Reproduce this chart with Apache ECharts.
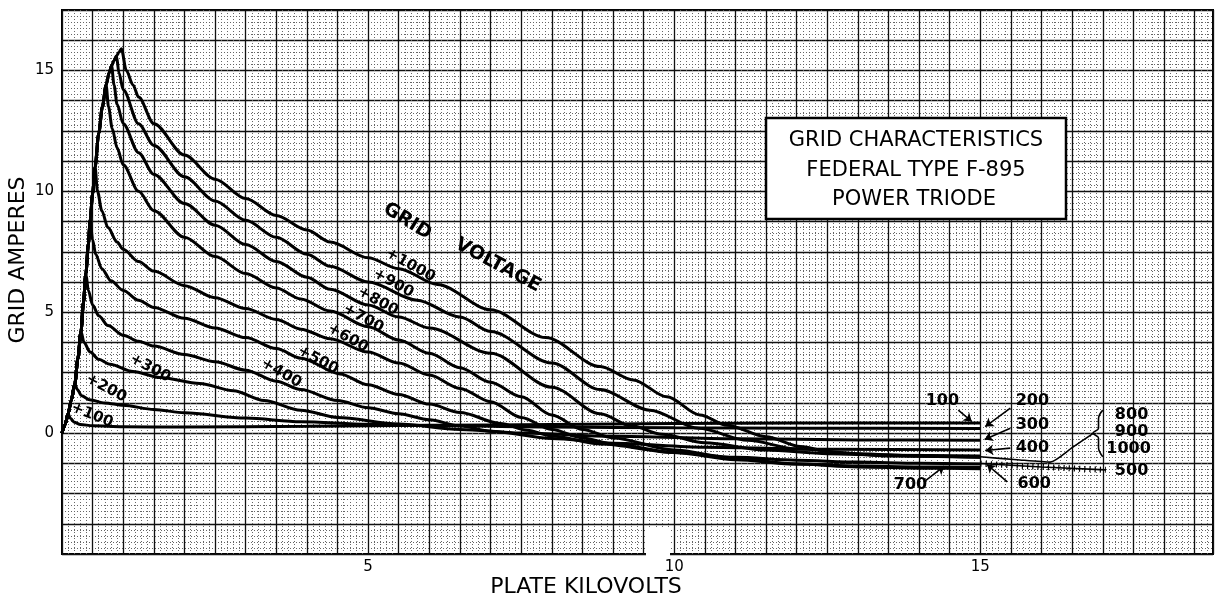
<!DOCTYPE html>
<html>
<head>
<meta charset="utf-8">
<title>Grid characteristics F-895</title>
<script src="https://cdn.jsdelivr.net/npm/echarts/dist/echarts.min.js"></script>
<style>
  html, body { margin: 0; padding: 0; background: #fff; }
  #chart { width: 1224px; height: 601px; }
</style>
</head>
<body>
<div id="chart"></div>
<script>
// rising part shared by every curve (plate kV, grid A)
const envelope = [[0,0],[0.05,0.35],[0.1,0.8],[0.15,1.35],[0.21,2.05],[0.26,3.1],[0.31,4.2],[0.35,5.4],
  [0.39,6.6],[0.43,7.8],[0.46,8.8],[0.5,9.9],[0.54,11.0],[0.6,12.4],[0.66,13.5],[0.72,14.4],[0.77,14.9],
  [0.81,15.2],[0.85,15.4],[0.89,15.6],[0.93,15.75],[0.97,15.9]];

// each curve from its peak on
const g100 = [[0.1,0.8],[0.14,0.6],[0.2,0.45],[0.3,0.36],[0.5,0.3],[1,0.26],[2,0.25],[4,0.28],[6,0.32],
  [8,0.36],[10,0.4],[12,0.42],[15,0.42]];
const g200 = [[0.21,2.05],[0.25,1.8],[0.32,1.55],[0.45,1.38],[0.7,1.25],[1.0,1.15],[1.5,0.98],[2.0,0.84],
  [3.0,0.62],[3.9,0.47],[5,0.37],[6,0.31],[8,0.25],[10,0.22],[12,0.2],[15,0.19]];
const g300 = [[0.31,4.2],[0.36,3.75],[0.46,3.35],[0.6,3.05],[0.78,2.85],[1.16,2.55],[1.6,2.3],[2.25,2.05],
  [2.8,1.75],[3.3,1.35],[3.9,0.95],[4.5,0.65],[5.5,0.38],[6.5,0.15],[7.5,0.0],[9,-0.13],[11,-0.23],
  [13,-0.28],[15,-0.3]];
const g400 = [[0.39,6.6],[0.43,5.9],[0.5,5.3],[0.6,4.85],[0.75,4.45],[1.0,4.05],[1.25,3.8],[1.5,3.6],
  [2.0,3.25],[2.5,2.95],[3.0,2.6],[3.5,2.15],[3.9,1.8],[4.5,1.35],[5.0,1.05],[5.5,0.8],[6.0,0.55],
  [6.5,0.3],[7.0,0.08],[8.0,-0.22],[9.0,-0.42],[10.5,-0.58],[12.5,-0.67],[15,-0.7]];
const g500 = [[0.46,8.8],[0.5,8.0],[0.55,7.4],[0.65,6.8],[0.8,6.3],[1.0,5.9],[1.25,5.5],[1.5,5.2],
  [2.0,4.75],[2.5,4.35],[3.0,3.95],[3.5,3.5],[3.9,3.1],[4.54,2.45],[5.0,2.0],[5.5,1.6],[6.0,1.2],
  [6.5,0.85],[7.16,0.4],[7.6,0.12],[8.0,-0.12],[8.8,-0.45],[10,-0.8],[11,-1.0],[12,-1.12],[13,-1.2],
  [14,-1.25],[15,-1.28]];
const g600 = [[0.54,11.0],[0.58,10.0],[0.65,9.2],[0.75,8.5],[0.9,7.9],[1.0,7.6],[1.25,7.1],[1.5,6.7],
  [2.0,6.1],[2.5,5.6],[3.0,5.15],[3.5,4.7],[3.9,4.3],[4.38,3.9],[5.0,3.35],[5.5,2.9],[6.0,2.4],
  [6.5,1.85],[7.0,1.3],[7.5,0.65],[8.0,0.15],[8.5,-0.2],[9.0,-0.45],[10,-0.8],[11,-1.1],[12,-1.28],
  [13,-1.36],[14,-1.4],[15,-1.42]];
const g700 = [[0.72,14.4],[0.76,13.5],[0.82,12.6],[0.9,11.8],[1.0,11.1],[1.25,10.0],[1.5,9.2],[2.0,8.1],
  [2.5,7.3],[3.0,6.6],[3.5,6.0],[3.9,5.55],[4.38,5.05],[5.0,4.4],[5.5,3.85],[6.0,3.3],[6.5,2.7],
  [7.0,2.1],[7.5,1.5],[8.0,0.75],[8.5,0.15],[9.0,-0.2],[10,-0.7],[11,-1.05],[12,-1.28],[13,-1.4],
  [14,-1.45],[15,-1.47]];
const g800 = [[0.81,15.2],[0.85,14.4],[0.9,13.6],[1.0,12.8],[1.25,11.6],[1.5,10.7],[2.0,9.5],[2.5,8.6],
  [3.0,7.8],[3.5,7.1],[4.0,6.45],[4.38,5.95],[5.0,5.3],[5.5,4.8],[6.0,4.35],[7.0,3.3],[8.0,1.9],
  [8.79,0.8],[9.3,0.3],[9.8,-0.05],[10.5,-0.4],[11.5,-0.7],[12.5,-0.85],[13.5,-0.92],[15,-0.95]];
const g900 = [[0.89,15.6],[0.93,14.9],[1.0,14.2],[1.25,12.8],[1.5,11.9],[2.0,10.6],[2.5,9.6],[3.0,8.8],
  [3.5,8.1],[4.0,7.4],[4.38,6.9],[5.0,6.25],[5.8,5.5],[6.5,4.8],[7.0,4.2],[8.0,2.9],[8.79,1.8],
  [9.6,0.95],[10.4,0.2],[11.2,-0.3],[12.0,-0.65],[13,-0.85],[14,-0.95],[15,-1.0]];
const g1000 = [[0.97,15.9],[1.05,15.0],[1.16,14.4],[1.25,13.9],[1.5,12.8],[2.0,11.5],[2.5,10.5],[3.0,9.7],
  [3.5,9.0],[4.0,8.4],[4.38,7.9],[5.0,7.25],[5.5,6.8],[6.13,6.15],[7.0,5.1],[7.9,3.95],[8.79,2.75],
  [9.33,2.2],[9.88,1.5],[10.42,0.75],[10.86,0.33],[11.5,-0.15],[12.06,-0.55],[12.6,-0.8],[13.5,-0.95],
  [15,-1.0]];

const curves = [g100, g200, g300, g400, g500, g600, g700, g800, g900, g1000];
const gridVolts = ['+100','+200','+300','+400','+500','+600','+700','+800','+900','+1000'];

// tick labels that are printed
const xTickLabels = [5, 10, 15];
const yTickLabels = [0, 5, 10, 15];

// curve names written along the curves
const curveLabelAt = [[0.49,0.74],[0.72,1.86],[1.44,2.69],[3.58,2.48],[4.18,3.02],[4.67,3.93],
  [4.92,4.75],[5.16,5.45],[5.41,6.2],[5.69,6.94]];
const curveLabelTilt = [-22,-28,-28,-30,-28,-29,-29,-29,-29,-29];

// end labels on the right with their arrows
const endLabels = ['100','200','300','400','600','700','800','900','1000','500'];
const endLabelAt = [[14.38,1.32],[15.85,1.32],[15.85,0.33],[15.85,-0.62],[15.88,-2.11],[13.86,-2.15],
  [17.47,0.74],[17.47,0.04],[17.42,-0.66],[17.47,-1.57]];
const arrows = [[[14.64,0.95],[14.86,0.48]], [[15.49,1.03],[15.08,0.27]], [[15.49,0.2],[15.07,-0.26]],
  [[15.49,-0.62],[15.08,-0.72]], [[15.44,-2.02],[15.11,-1.3]], [[14.1,-1.98],[14.41,-1.37]]];
const arrowBend = [0, 0, 0, 0.35, -0.35, 0];
const leader500 = [[15.0,-1.26],[16.0,-1.4],[17.05,-1.52]];
const leaderHigh = [[15.0,-0.98],[15.6,-1.1],[16.14,-1.2],[16.5,-0.6],[16.85,0.0]];
const bracket = [[17.0,0.95],[16.93,0.6],[16.93,0.2],[16.84,0.0],[16.93,-0.2],[16.93,-0.6],[17.0,-0.98]];

const FONT = 'DejaVu Sans';
const ink = '#000';

function trace(desc) {
  return envelope.filter(p => p[0] < desc[0][0]).concat(desc);
}
function isTick(v, list) {
  return list.some(t => Math.abs(t - v) < 1e-6);
}
// text written into the plot, anchored on data coordinates
function textLayer(items, size) {
  return {
    type: 'scatter', silent: true, z: 5, symbolSize: 0,
    itemStyle: { color: '#000' },
    data: items,
    label: {
      show: true, position: 'inside', formatter: p => p.name,
      color: ink, opacity: 1, textBorderWidth: 0, textShadowBlur: 0,
      fontFamily: FONT, fontWeight: 'bold', fontSize: size
    }
  };
}

var chart = echarts.init(document.getElementById('chart'));

var series = curves.map((d, i) => ({
  name: gridVolts[i],
  type: 'line',
  data: trace(d),
  showSymbol: false,
  smooth: 0.3,
  smoothMonotone: 'x',
  silent: true,
  z: 3,
  lineStyle: { color: '#000', width: 3 }
}));

// leader lines and arrows
series.push({
  type: 'line', data: leader500, showSymbol: false, silent: true, z: 3,
  lineStyle: { color: '#000', width: 1.6 },
  markLine: {
    silent: true, animation: false,
    symbol: ['none', 'arrow'], symbolSize: 8,
    label: { show: false },
    lineStyle: { color: '#000', width: 1.6, type: 'solid' },
    data: arrows.map((a, i) => [
      { coord: a[0], lineStyle: { curveness: arrowBend[i] } },
      { coord: a[1] }
    ])
  }
});
series.push({
  type: 'line', data: leader500, showSymbol: false, silent: true, z: 3,
  lineStyle: { color: '#000', width: 6, type: [1.2, 4] }
});
series.push({
  type: 'line', data: leaderHigh, showSymbol: false, silent: true, z: 3, smooth: 0.2,
  lineStyle: { color: '#000', width: 1.6 }
});
series.push({
  type: 'line', data: bracket, showSymbol: false, silent: true, z: 3, smooth: 0.4,
  lineStyle: { color: '#000', width: 1.6 }
});

// curve names, GRID VOLTAGE, end labels
series.push(textLayer(curveLabelAt.map((p, i) => ({
  name: gridVolts[i], value: p, label: { rotate: curveLabelTilt[i] }
})), 15));
series.push(textLayer([
  { name: 'GRID', value: [5.64, 8.76], label: { rotate: -32 } },
  { name: 'VOLTAGE', value: [7.12, 6.94], label: { rotate: -28 } }
], 19));
series.push(textLayer(endLabelAt.map((p, i) => ({ name: endLabels[i], value: p })), 16));

var option = {
  animation: false,
  backgroundColor: '#fff',
  grid: {
    left: 62, right: 11, top: 10, bottom: 47,
    show: true, borderColor: '#000', borderWidth: 2
  },
  xAxis: {
    type: 'value', min: 0, max: 18.8, interval: 0.5,
    axisLine: { show: false },
    axisTick: { show: false },
    axisLabel: {
      color: ink, fontFamily: FONT, fontSize: 15, margin: 6,
      showMinLabel: true, showMaxLabel: false,
      formatter: v => isTick(v, xTickLabels) ? String(Math.round(v)) : ''
    },
    splitLine: { show: true, lineStyle: { color: '#111', width: 1.3 } },
    minorTick: { show: true, splitNumber: 5, length: 0 },
    minorSplitLine: { show: true, lineStyle: { color: '#666', width: 1, type: [1, 2] } }
  },
  yAxis: {
    type: 'value', min: -5, max: 17.5, interval: 1.25,
    axisLine: { show: false },
    axisTick: { show: false },
    axisLabel: {
      color: ink, fontFamily: FONT, fontSize: 15, margin: 8,
      formatter: v => isTick(v, yTickLabels) ? String(Math.round(v)) : ''
    },
    splitLine: { show: true, lineStyle: { color: '#111', width: 1.3 } },
    minorTick: { show: true, splitNumber: 5, length: 0 },
    minorSplitLine: { show: true, lineStyle: { color: '#666', width: 1, type: [1, 2] } }
  },
  graphic: [
    // blank patch in the scanned sheet
    { type: 'rect', z: 20, shape: { x: 646, y: 528, width: 24, height: 28 }, style: { fill: '#fff' } },
    {
      type: 'text', x: 586, y: 587, z: 20,
      style: { text: 'PLATE KILOVOLTS', font: '22px "DejaVu Sans"', fill: ink, align: 'center', verticalAlign: 'middle' }
    },
    {
      type: 'text', x: 18, y: 260, z: 20, rotation: Math.PI / 2,
      style: { text: 'GRID AMPERES', font: '22px "DejaVu Sans"', fill: ink, align: 'center', verticalAlign: 'middle' }
    },
    {
      type: 'rect', z: 20, shape: { x: 766, y: 118, width: 300, height: 101 },
      style: { fill: '#fff', stroke: '#000', lineWidth: 2.5 }
    },
    {
      type: 'text', x: 916, y: 141, z: 21,
      style: { text: 'GRID CHARACTERISTICS', font: '21px "DejaVu Sans"', fill: ink, align: 'center', verticalAlign: 'middle' }
    },
    {
      type: 'text', x: 916, y: 171, z: 21,
      style: { text: 'FEDERAL TYPE F-895', font: '21px "DejaVu Sans"', fill: ink, align: 'center', verticalAlign: 'middle' }
    },
    {
      type: 'text', x: 914, y: 200, z: 21,
      style: { text: 'POWER TRIODE', font: '21px "DejaVu Sans"', fill: ink, align: 'center', verticalAlign: 'middle' }
    }
  ],
  series: series
};

chart.setOption(option);
</script>
</body>
</html>
